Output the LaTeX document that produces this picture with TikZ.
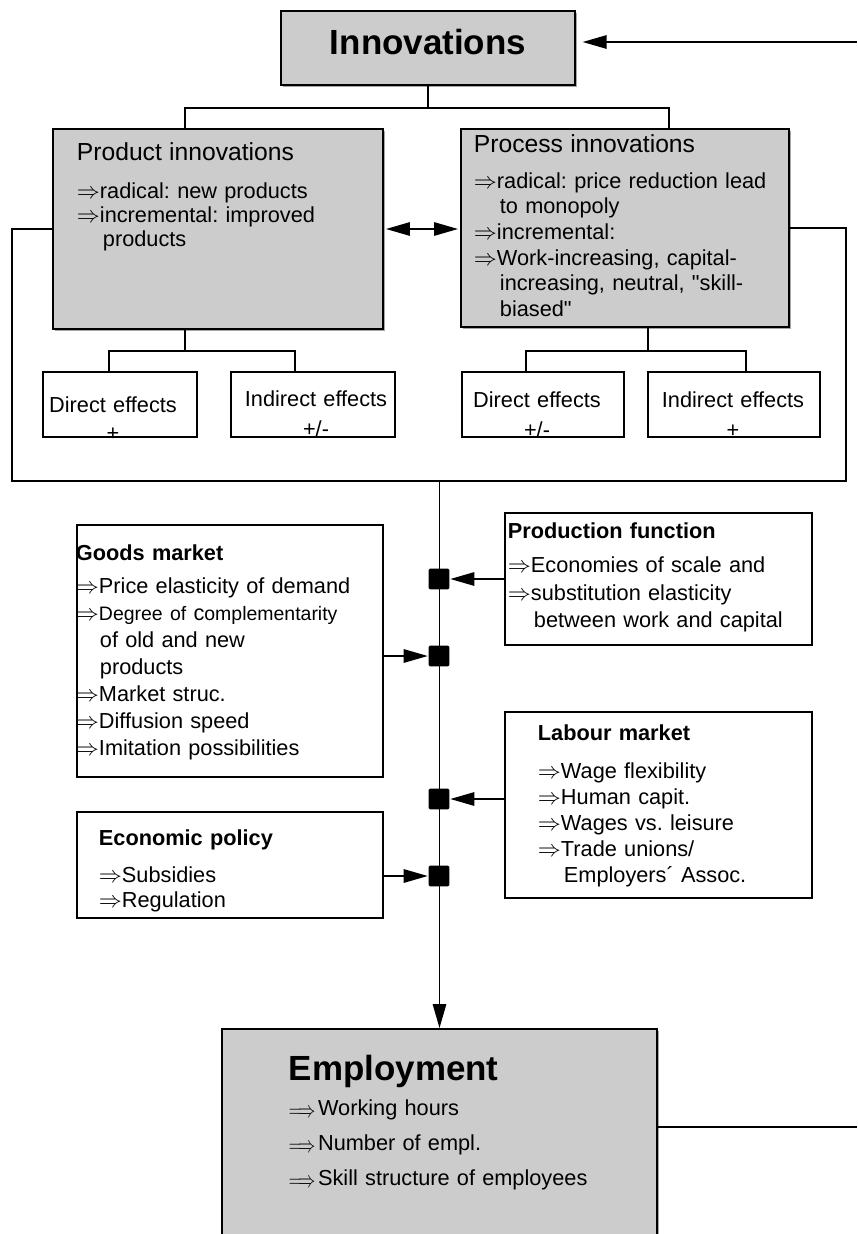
\documentclass[tikz,border=0pt]{standalone}
\usepackage{fontspec}
\setmainfont{Liberation Sans}[Ligatures=TeXOff]
\usepackage{graphicx}
\usetikzlibrary{arrows.meta,calc,shadows}
\definecolor{boxgray}{RGB}{204,204,204}
\newcommand\arrw{$\Rightarrow$}
\newcommand\longarrw{\raisebox{-1.5pt}{\scalebox{.74}[1]{$\Longrightarrow$}}\kern2pt}
\newcommand\txtsize[1]{\fontsize{16.3}{#1}\selectfont\frenchspacing}
\newcommand\ttlsize{\fontsize{18.5}{20}\selectfont}
\begin{document}
\begin{tikzpicture}[x=.75pt,y=-.75pt,line width=1.4pt,
  every node/.style={font=\txtsize{19}},
  box/.style 2 args={draw,rectangle,minimum width=#1*.75pt,minimum height=#2*.75pt,inner sep=0pt},
  gbox/.style 2 args={box={#1}{#2},fill=boxgray,drop shadow={shadow xshift=1.5pt,shadow yshift=-1.5pt,fill=gray,opacity=.7}},
  txt/.style={anchor=base west,align=left,text width=250pt,inner sep=0pt},
  eff/.style={anchor=base,align=center,text width=120pt,inner sep=0pt},
  sq/.style={fill,rectangle,rounded corners=1pt,minimum size=15.5pt,inner sep=0pt},
  arr/.style={-{Triangle[length=18pt,width=10pt]}},
  dbl/.style={{Triangle[length=18pt,width=10pt]}-{Triangle[length=18pt,width=10pt]}}]
\useasboundingbox (0,0) rectangle (857,1234);
\clip (0,0) rectangle (857,1234);

\node[gbox={294}{74},font=\fontsize{26.2}{30}\selectfont\bfseries,text height=18pt,text depth=7.5pt] at (428,48) (i) {Innovations};
\node[gbox={330}{200}] at (218,229) (p) {};
\node[gbox={328}{198}] at (625,228) (q) {};
\node[box={154}{65}] at (120,404.5) (d1) {};
\node[box={164}{65}] at (313,404.5) (d2) {};
\node[box={162}{65}] at (543,404.5) (d3) {};
\node[box={172}{65}] at (734,404.5) (d4) {};
\node[box={306}{252}] at (230,651) (g) {};
\node[box={307}{132}] at (658.5,579) (pf) {};
\node[box={307}{186}] at (658.5,805) (l) {};
\node[box={306}{106}] at (230,865) (ep) {};
\node[gbox={435}{240}] at (439.5,1149) (e) {};

\node[txt,font=\txtsize{18}] at (76,161) (pt) {{\ttlsize Product innovations}\\[10.5pt]\arrw radical: new products\\\arrw incremental: improved\\\hspace*{19.5pt}products};
\node[txt,font=\txtsize{19.3}] at (473,153) (qt) {{\ttlsize Process innovations}\\[7pt]\arrw radical: price reduction lead\\\hspace*{19.5pt}to monopoly\\\arrw incremental:\\\arrw Work-increasing, capital-\\\hspace*{19.5pt}increasing, neutral, "skill-\\\hspace*{19.5pt}biased"};
\node[eff] at (113,412) (d1t) {Direct effects\\[2pt]+};
\node[eff] at (316,406) (d2t) {Indirect effects\\[3.5pt]+/-};
\node[eff] at (537,407) (d3t) {Direct effects\\[3.5pt]+/-};
\node[eff] at (733,407) (d4t) {Indirect effects\\[3.5pt]+};
\node[txt,font=\txtsize{20.25}] at (75,560) (gt) {\textbf{Goods market}\\[4.5pt]\arrw Price elasticity of demand\\\arrw{\fontsize{14.6}{20.25}\selectfont Degree of {\txtsize{20.25}c}omplementarity}\\\hspace*{18pt}of old and new\\\hspace*{18pt}products\\\arrw Market struc.\\\arrw Diffusion speed\\\arrw Imitation possibilities};
\node[txt,font=\txtsize{20.5}] at (507,538) (pft) {\textbf{Production function}\\[5.5pt]\arrw Economies of scale and\\\arrw substitution elasticity\\\hspace*{19.5pt}between work and capital};
\node[txt,font=\txtsize{19.5}] at (537,740) (lt) {\textbf{Labour market}\\[9pt]\arrw Wage flexibility\\\arrw Human capit.\\\arrw Wages vs. leisure\\\arrw Trade unions/\\\hspace*{19.5pt}Employers´ Assoc.};
\node[txt] at (98,845) (ept) {\textbf{Economic policy}\\[8.8pt]\arrw Subsidies\\\arrw Regulation};
\node[txt,font=\txtsize{26.25}] at (288,1080) (et) {{\fontsize{26.2}{26.25}\selectfont\bfseries Employment}\\\longarrw Working hours\\\longarrw Number of empl.\\\longarrw Skill structure of employees};

\coordinate (r1) at (857,42);
\draw[arr,shorten >=5pt] (r1) -- (r1 -| i.east);
\draw (i.south) -- ++(0,22) -| ($(p.north)+(-33,0)$);
\draw (i.south) ++(0,22) -| ($(q.north)+(44,0)$);
\draw[dbl,shorten <=1.5pt,shorten >=1.5pt] (p.east) -- (p.east -| q.west);
\draw ($(p.south)+(-33,0)$) -- ++(0,21) coordinate (pj) -| ($(d1.north)+(-11,0)$);
\draw (pj) -| ($(d2.north)+(-18,0)$);
\draw ($(q.south)+(23,0)$) -- ++(0,23) coordinate (qj) -| ($(d3.north)+(-17,0)$);
\draw (qj) -| ($(d4.north)+(12,0)$);
\coordinate (bl) at (12,481);
\coordinate (br) at (846,481);
\draw (p.west) -| (bl) -- (br) |- (q.east);
\draw[arr] (bl -| e.north) -- (e.north);

\node[sq] at (439,579) (s1) {};
\node[sq] at (439,656) (s2) {};
\node[sq] at (439,799) (s3) {};
\node[sq] at (439,876) (s4) {};

\draw[arr] (pf.west) -- (s1.east);
\draw[arr] (g.east |- s2) -- (s2.west);
\draw[arr] (l.west |- s3) -- (s3.east);
\draw[arr] (ep.east |- s4) -- (s4.west);
\coordinate (r2) at (857,1127);
\draw (r2 -| e.east) -- (r2);

\end{tikzpicture}
\end{document}
